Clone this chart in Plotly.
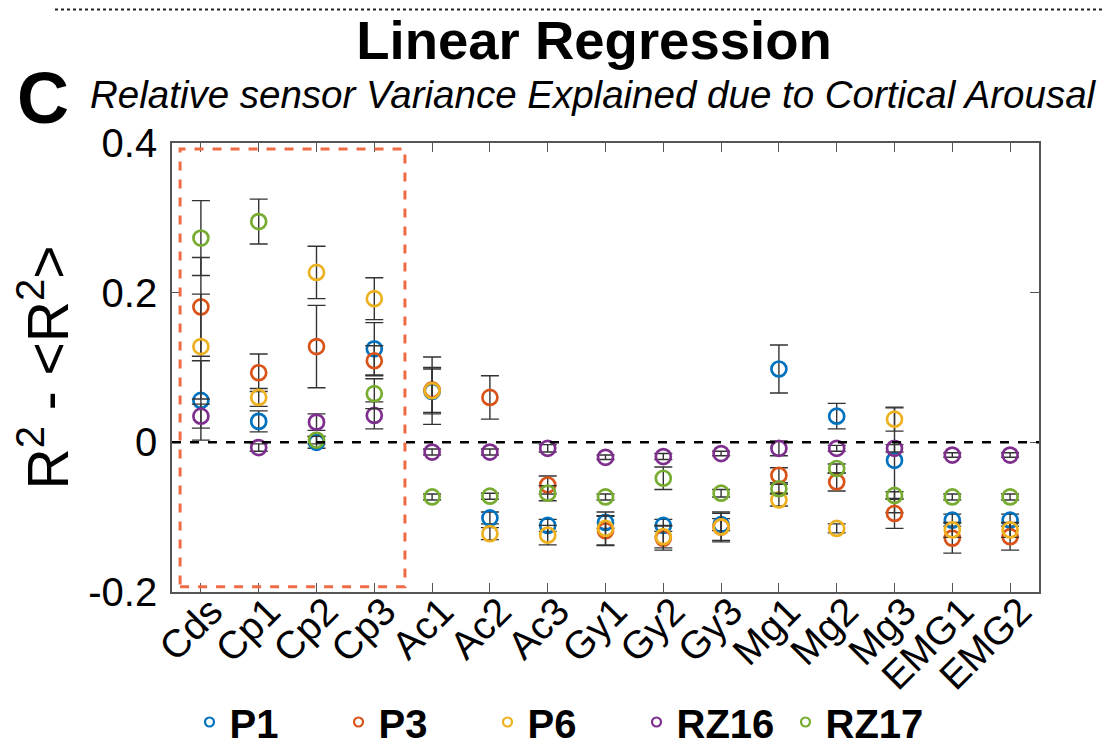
import plotly.graph_objects as go

categories = ["Cds", "Cp1", "Cp2", "Cp3", "Ac1", "Ac2", "Ac3", "Gy1", "Gy2", "Gy3",
              "Mg1", "Mg2", "Mg3", "EMG1", "EMG2"]

series_names = ["P1", "P3", "P6", "RZ16", "RZ17"]
series_colors = ["#0072BD", "#D95319", "#EDB120", "#7E2F8E", "#77AC30"]

p1_vals = [0.056, 0.028, 0.000, 0.125, 0.068, -0.101, -0.111, -0.107, -0.111, -0.110,
           0.098, 0.035, -0.024, -0.104, -0.104]
p1_err = [0.053, 0.014, 0.008, 0.035, 0.030, 0.008, 0.008, 0.008, 0.008, 0.008,
          0.032, 0.017, 0.070, 0.008, 0.008]

p3_vals = [0.181, 0.093, 0.128, 0.109, 0.070, 0.060, -0.057, -0.118, -0.128, -0.113,
           -0.044, -0.053, -0.095, -0.128, -0.126]
p3_err = [0.066, 0.025, 0.055, 0.020, 0.030, 0.029, 0.012, 0.020, 0.016, 0.020,
          0.010, 0.012, 0.020, 0.020, 0.018]

p6_vals = [0.128, 0.060, 0.227, 0.192, 0.069, -0.122, -0.124, -0.115, -0.126, -0.113,
           -0.077, -0.115, 0.031, -0.117, -0.117]
p6_err = [0.070, 0.012, 0.035, 0.028, 0.045, 0.008, 0.013, 0.022, 0.015, 0.018,
          0.008, 0.006, 0.016, 0.010, 0.010]

rz16_vals = [0.035, -0.007, 0.027, 0.036, -0.013, -0.013, -0.008, -0.020, -0.019, -0.015,
             -0.008, -0.008, -0.008, -0.017, -0.017]
rz16_err = [0.016, 0.005, 0.011, 0.018, 0.004, 0.004, 0.005, 0.003, 0.004, 0.003,
            0.010, 0.004, 0.005, 0.003, 0.003]

rz17_vals = [0.273, 0.295, 0.003, 0.065, -0.073, -0.072, -0.068, -0.073, -0.048, -0.068,
             -0.062, -0.035, -0.071, -0.073, -0.073]
rz17_err = [0.050, 0.030, 0.005, 0.020, 0.004, 0.004, 0.010, 0.004, 0.015, 0.005,
            0.006, 0.006, 0.005, 0.004, 0.004]

all_vals = [p1_vals, p3_vals, p6_vals, rz16_vals, rz17_vals]
all_errs = [p1_err, p3_err, p6_err, rz16_err, rz17_err]

y_ticks = [-0.2, 0, 0.2, 0.4]
y_ticktext = ["-0.2", "0", "0.2", "0.4"]

highlight_first = "Cds"
highlight_last = "Cp3"

FONT = "Liberation Sans, Arial, Helvetica, sans-serif"

# page body adds an 8px margin; figure is sized to fill the rest of the window
W, H = 1104, 742
PL, PT, PR, PB = 164, 135, 1031, 584   # plot area in figure pixels
PW, PH = PR - PL, PB - PT


def px(xf):
    return (xf - PL) / PW


def py(yf):
    return (PB - yf) / PH


xpos = list(range(1, len(categories) + 1))

fig = go.Figure()

for name, color, vals, errs in zip(series_names, series_colors, all_vals, all_errs):
    fig.add_trace(go.Scatter(
        x=xpos, y=vals, mode="markers", name=name, showlegend=False,
        marker=dict(symbol="circle-open", size=15, color=color, line=dict(width=2.7, color=color)),
        error_y=dict(type="data", array=errs, visible=True, color="#333333", thickness=1.4, width=9),
    ))

# legend-only entries with small markers
for name, color in zip(series_names, series_colors):
    fig.add_trace(go.Scatter(
        x=[None], y=[None], mode="markers", name=name, showlegend=True,
        marker=dict(symbol="circle-open", size=9, color=color, line=dict(width=2.2, color=color)),
    ))

i0 = categories.index(highlight_first) + 1
i1 = categories.index(highlight_last) + 1

fig.add_shape(type="line", xref="paper", yref="y", x0=0, x1=1, y0=0, y1=0,
              line=dict(color="black", width=2.5, dash="dash"))
fig.add_shape(type="rect", xref="x", yref="y", x0=i0 - 0.36, x1=i1 + 0.53, y0=-0.193, y1=0.392,
              line=dict(color="#EE6B45", width=3, dash="dash"))
fig.add_shape(type="line", xref="paper", yref="paper", x0=px(47), x1=px(1104), y0=py(1.5), y1=py(1.5),
              line=dict(color="#222222", width=2, dash="dot"))

fig.add_annotation(text="<i>Relative sensor Variance Explained due to Cortical Arousal</i>",
                   xref="paper", yref="paper", x=px(585), y=py(87),
                   xanchor="center", yanchor="middle", showarrow=False,
                   font=dict(family=FONT, size=38.5, color="black"))
fig.add_annotation(text="<b>C</b>", xref="paper", yref="paper", x=px(35), y=py(90),
                   xanchor="center", yanchor="middle", showarrow=False,
                   font=dict(family=FONT, size=72, color="black"))

fig.update_layout(
    width=W, height=H,
    margin=dict(l=PL, r=W - PR, t=PT, b=H - PB, autoexpand=False),
    paper_bgcolor="white", plot_bgcolor="white",
    font=dict(family=FONT, color="black"),
    title=dict(text="<b>Linear Regression</b>", x=586 / W, xanchor="center",
               y=1 - 32 / H, yanchor="middle", automargin=False,
               font=dict(family=FONT, size=54.5, color="black")),
    showlegend=True,
    legend=dict(orientation="h", x=px(554), xanchor="center", y=py(714),
                yanchor="middle",
                font=dict(family=FONT, size=40, color="black", weight="bold"),
                entrywidth=104, itemwidth=30, bgcolor="rgba(0,0,0,0)"),
)

fig.update_xaxes(
    range=[0.5, len(categories) + 0.5], tickmode="array", tickvals=xpos, ticktext=categories,
    tickangle=-45, tickfont=dict(family=FONT, size=39, color="black"), automargin=False,
    ticklabelstandoff=-21, ticklabelshift=10,
    showline=True, linecolor="#555555", linewidth=1.6, mirror="allticks",
    ticks="inside", ticklen=9, tickcolor="#555555", tickwidth=1.4, showgrid=False, zeroline=False,
)
fig.update_yaxes(
    range=[-0.2, 0.4], tickmode="array", tickvals=y_ticks, ticktext=y_ticktext,
    tickfont=dict(family=FONT, size=40, color="black"), automargin=False,
    ticklabelstandoff=5,
    showline=True, linecolor="#555555", linewidth=1.6, mirror="allticks",
    ticks="inside", ticklen=9, tickcolor="#555555", tickwidth=1.4, showgrid=False, zeroline=False,
    title=dict(text="R<sup>2</sup> - <R<sup>2</sup>>", standoff=4,
               font=dict(family=FONT, size=57, color="black")),
)

fig.write_html("out.html")
